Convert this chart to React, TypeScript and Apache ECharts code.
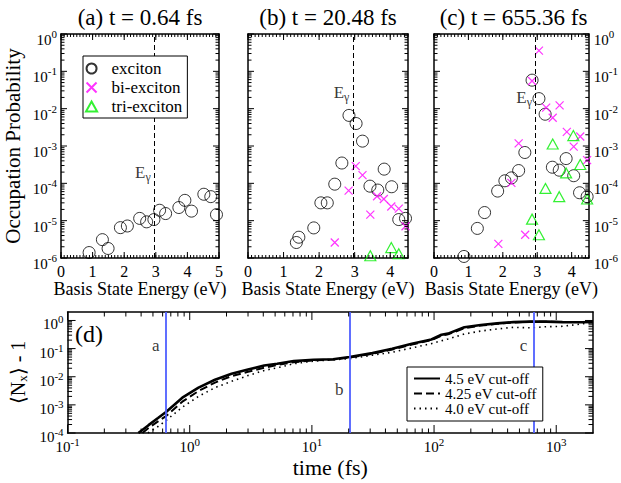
import React, { useEffect, useRef } from 'react';
import * as echarts from 'echarts';

const FONT = 'Liberation Serif';

// ---------- Panel (a) t = 0.64 fs ----------
const energyAExciton = [0.89, 1.31, 1.49, 1.88, 2.1, 2.49, 2.71, 2.94, 3.12, 3.31, 3.73, 3.92, 4.13, 4.52, 4.74, 4.92];
const probAExciton = [1.4e-6, 3.1e-6, 1.8e-6, 6.5e-6, 7.2e-6, 1.15e-5, 9.3e-6, 1.07e-5, 1.9e-5, 1.55e-5, 2.25e-5, 3.5e-5, 1.8e-5, 5.1e-5, 4.4e-5, 1.45e-5];

// ---------- Panel (b) t = 20.48 fs ----------
const energyBExciton = [1.36, 1.43, 1.85, 2.05, 2.23, 2.44, 2.64, 2.84, 3.04, 3.22, 3.43, 3.65, 3.83, 4.04, 4.24, 4.43];
const probBExciton = [2.6e-6, 3.6e-6, 6.4e-6, 3.0e-5, 3.0e-5, 9.5e-5, 3.5e-4, 6.6e-3, 4.0e-3, 1.35e-3, 8.4e-5, 6.6e-5, 2.4e-4, 8.1e-5, 1.07e-5, 1.15e-5];
const energyBBi = [2.44, 2.83, 3.03, 3.22, 3.44, 3.63, 3.82, 4.03, 4.24, 4.43];
const probBBi = [2.6e-6, 6.4e-5, 2.9e-4, 1.66e-4, 1.45e-5, 4.5e-5, 3.8e-5, 2.4e-5, 2.1e-5, 7.1e-6];
const energyBTri = [3.44, 4.03, 4.24];
const probBTri = [1.15e-6, 1.9e-6, 1.3e-6];

// ---------- Panel (c) t = 655.36 fs ----------
const energyCExciton = [0.87, 1.26, 1.47, 1.85, 2.06, 2.25, 2.46, 2.64, 2.85, 3.05, 3.23, 3.44, 3.64, 3.84, 4.06, 4.23, 4.45];
const probCExciton = [1.1e-6, 6.2e-6, 1.65e-5, 6.2e-5, 1.17e-4, 1.4e-4, 2.2e-4, 6.7e-4, 0.058, 0.0186, 7.1e-3, 2.7e-4, 2.25e-4, 4.6e-4, 1.6e-4, 5.6e-5, 4.4e-5];
const energyCBi = [1.87, 2.25, 2.46, 2.65, 2.85, 3.05, 3.26, 3.45, 3.65, 3.86, 4.06, 4.25, 4.45];
const probCBi = [2.4e-6, 1.03e-4, 1.18e-3, 4.2e-6, 0.055, 0.36, 0.0107, 5.7e-3, 0.0123, 2.4e-3, 9.6e-4, 1.8e-3, 4.2e-4];
const energyCTri = [2.85, 3.05, 3.24, 3.45, 3.64, 3.84, 4.05, 4.25, 4.45];
const probCTri = [1.1e-5, 4.2e-6, 7.3e-5, 1.13e-3, 4.4e-5, 1.9e-4, 1.9e-3, 3.2e-4, 3.8e-5];

const gapEnergy = 2.95;
const gapLabelLevels = [10 ** -3.72, 10 ** -1.58, 10 ** -1.71];
const panelTitles = ['(a) t = 0.64 fs', '(b) t = 20.48 fs', '(c) t = 655.36 fs'];

// ---------- Panel (d) ----------
const time45 = [0.38, 0.46, 0.55, 0.64, 0.87, 1.18, 1.61, 2.2, 3.0, 4.07, 5.2, 7.1, 10.3, 14.9, 20.3, 31.3, 45.4, 65.8, 95, 115, 130, 177, 241, 328, 447, 608, 830, 1125, 1620, 2000];
const nx45 = [1.0e-4, 1.9e-4, 3.4e-4, 5.6e-4, 1.8e-3, 4.1e-3, 7.8e-3, 0.0127, 0.018, 0.025, 0.029, 0.036, 0.04, 0.042, 0.05, 0.069, 0.098, 0.148, 0.21, 0.31, 0.34, 0.57, 0.69, 0.79, 0.87, 0.91, 0.91, 0.87, 0.86, 0.88];
const time425 = [0.41, 0.46, 0.55, 0.64, 0.87, 1.18, 1.61, 2.2, 3.0, 4.07, 5.2, 7.1, 10.3, 14.9, 20.3, 31.3, 45.4, 65.8, 95, 115, 130, 177, 241, 328, 447, 608, 830, 1125, 1620, 2000];
const nx425 = [1.0e-4, 1.5e-4, 2.6e-4, 4.0e-4, 1.3e-3, 3.1e-3, 6.2e-3, 0.0105, 0.015, 0.021, 0.026, 0.033, 0.038, 0.041, 0.048, 0.066, 0.093, 0.14, 0.2, 0.29, 0.32, 0.53, 0.66, 0.76, 0.85, 0.9, 0.9, 0.88, 0.88, 0.95];
const time40 = [0.455, 0.55, 0.64, 0.87, 1.18, 1.61, 2.2, 3.0, 4.07, 5.5, 7.1, 10.3, 20.3, 45.4, 95, 130, 177, 241, 328, 447, 608, 830, 1125, 1620, 2000];
const nx40 = [1.0e-4, 1.7e-4, 2.8e-4, 8.3e-4, 2.0e-3, 4.1e-3, 6.9e-3, 0.011, 0.0166, 0.022, 0.029, 0.036, 0.044, 0.074, 0.15, 0.22, 0.33, 0.42, 0.5, 0.57, 0.55, 0.6, 0.62, 0.75, 0.9];

const markerTimes = [0.64, 20.48, 655.36];
const markerNames = ['a', 'b', 'c'];
const markerLabelLevels = [0.13, 0.0035, 0.13];

const cutoffNames = ['4.5 eV cut-off', '4.25 eV cut-off', '4.0 eV cut-off'];
const speciesNames = ['exciton', 'bi-exciton', 'tri-exciton'];

// ---------- helpers ----------
const txt = { fontFamily: FONT, fontWeight: 'normal', fontStyle: 'normal', color: '#000' };
const powRich = (b: number, s: number, lift: number) => ({
  b: { ...txt, fontSize: b },
  s: { ...txt, fontSize: s, padding: [0, 0, lift, 0] },
});
const powLabel = (v: number) => {
  const e = Math.log10(v);
  const r = Math.round(e);
  if (Math.abs(e - r) > 1e-6) return '';
  return `{b|10}{s|${r}}`;
};
const intLabel = (v: number) => (Math.abs(v - Math.round(v)) < 1e-9 ? String(Math.round(v)) : '');

const range = (a: number, b: number, s: number) => {
  const out: number[] = [];
  for (let i = 0; a + i * s <= b + 1e-9; i++) out.push(+(a + i * s).toFixed(6));
  return out;
};
const decades = (e0: number, e1: number) => range(e0, e1, 1).map((e) => 10 ** e);
const logMinor = (e0: number, e1: number, maxV: number) => {
  const out: number[] = [];
  for (let e = e0; e <= e1; e++) for (let k = 2; k <= 9; k++) { const v = k * 10 ** e; if (v < maxV * 0.999) out.push(v); }
  return out;
};

type Tick = [number, number, number, number];
const buildTicks = (
  xMajor: number[], xMinor: number[], yAnchor: number,
  yMajor: number[], yMinor: number[], xAnchor: number,
  majLen: number, minLen: number, minLenY: number,
): Tick[] => [
  ...xMajor.map((v) => [v, yAnchor, 0, majLen] as Tick),
  ...xMinor.map((v) => [v, yAnchor, 0, minLen] as Tick),
  ...yMajor.map((v) => [xAnchor, v, 1, majLen] as Tick),
  ...yMinor.map((v) => [xAnchor, v, 1, minLenY] as Tick),
];

const tickSeries = (g: number, data: Tick[]) => ({
  type: 'custom',
  xAxisIndex: 2 * g,
  yAxisIndex: 2 * g,
  silent: true,
  z: 10,
  data,
  renderItem: (params: any, api: any) => {
    const cs = params.coordSys;
    const kind = api.value(2);
    const len = api.value(3);
    const st = { stroke: '#000', lineWidth: 1 };
    const p = api.coord([api.value(0), api.value(1)]);
    if (kind === 0) {
      const x = p[0];
      return {
        type: 'group',
        children: [
          { type: 'line', shape: { x1: x, y1: cs.y + cs.height, x2: x, y2: cs.y + cs.height - len }, style: st },
          { type: 'line', shape: { x1: x, y1: cs.y, x2: x, y2: cs.y + len }, style: st },
        ],
      };
    }
    const y = p[1];
    return {
      type: 'group',
      children: [
        { type: 'line', shape: { x1: cs.x, y1: y, x2: cs.x + len, y2: y }, style: st },
        { type: 'line', shape: { x1: cs.x + cs.width, y1: y, x2: cs.x + cs.width - len, y2: y }, style: st },
      ],
    };
  },
});

const frame = { show: true, onZero: false, lineStyle: { color: '#000', width: 1.5 } };
const noTicks = { axisTick: { show: false }, minorTick: { show: false }, splitLine: { show: false }, minorSplitLine: { show: false } };

const grids = [
  { left: 61, top: 34, width: 158, height: 224 },
  { left: 248, top: 34, width: 160, height: 224 },
  { left: 434, top: 34, width: 159, height: 224 },
  { left: 60, top: 312, width: 533, height: 121 },
];
const energyMax = [5, 4.5, 4.5];

const crossPath = 'path://M0,0L10,10M10,0L0,10';
const triPath = 'path://M5,0L10,9L0,9Z';
const circleSym = { symbol: 'circle', symbolSize: 12, itemStyle: { color: 'rgba(0,0,0,0)', borderColor: '#000', borderWidth: 1 } };
const crossSym = { symbol: crossPath, symbolSize: 8, itemStyle: { color: 'rgba(0,0,0,0)', borderColor: '#ff00ff', borderWidth: 1.2 } };
const triSym = { symbol: 'triangle', symbolSize: [11, 10], itemStyle: { color: 'rgba(0,0,0,0)', borderColor: '#00ee00', borderWidth: 1.2 } };

const scatter = (name: string, xs: number[], ys: number[], g: number, sym: any) => ({
  type: 'scatter', name, xAxisIndex: 2 * g, yAxisIndex: 2 * g,
  data: xs.map((x, i) => [x, ys[i]]), ...sym, z: 3, emphasis: { disabled: true },
});

const buildOption = () => {
  const xAxis: any[] = [];
  const yAxis: any[] = [];
  for (let g = 0; g < 3; g++) {
    const base = { type: 'value', gridIndex: g, min: 0, max: energyMax[g], interval: 1, ...noTicks };
    xAxis.push({
      ...base, position: 'bottom', axisLine: frame,
      axisLabel: { ...txt, fontSize: 16, margin: 5, formatter: intLabel, showMaxLabel: true },
      name: 'Basis State Energy (eV)', nameLocation: 'middle', nameGap: 18,
      nameTextStyle: { ...txt, fontSize: 18 },
    });
    xAxis.push({ ...base, position: 'top', axisLine: frame, axisLabel: { show: false } });
    const ybase = { type: 'log', logBase: 10, gridIndex: g, min: 1e-6, max: 1, ...noTicks };
    yAxis.push({
      ...ybase, position: 'left', axisLine: frame,
      axisLabel: g === 0
        ? { ...txt, formatter: powLabel, margin: 4, padding: [12, 0, 0, 0], rich: powRich(15, 11, 12) }
        : { show: false },
      ...(g === 0 ? {
        name: 'Occupation Probability', nameLocation: 'middle', nameGap: 38,
        nameTextStyle: { ...txt, fontSize: 21 },
      } : {}),
    });
    yAxis.push({
      ...ybase, position: 'right', axisLine: frame,
      axisLabel: g === 2
        ? { ...txt, formatter: powLabel, margin: 5, padding: [12, 0, 0, 0], rich: powRich(15, 11, 12) }
        : { show: false },
    });
  }
  const xd = { type: 'log', logBase: 10, gridIndex: 3, min: 0.1, max: 2000, ...noTicks };
  xAxis.push({
    ...xd, position: 'bottom', axisLine: frame,
    axisLabel: { ...txt, formatter: powLabel, margin: 3, rich: powRich(15, 11, 10) },
    name: 'time (fs)', nameLocation: 'middle', nameGap: 23,
    nameTextStyle: { ...txt, fontSize: 22 },
  });
  xAxis.push({ ...xd, position: 'top', axisLine: frame, axisLabel: { show: false } });
  const yd = { type: 'log', logBase: 10, gridIndex: 3, min: 1e-4, max: 2, ...noTicks };
  yAxis.push({
    ...yd, position: 'left', axisLine: frame,
    axisLabel: { ...txt, formatter: powLabel, margin: 4, padding: [8, 0, 0, 0], rich: powRich(15, 11, 10) },
    name: '{a|⟨N}{u|x}{a|⟩ - 1}', nameLocation: 'middle', nameGap: 34,
    nameTextStyle: { ...txt, rich: { a: { ...txt, fontSize: 20 }, u: { ...txt, fontSize: 13, padding: [8, 0, 0, 0] } } },
  });
  yAxis.push({ ...yd, position: 'right', axisLine: frame, axisLabel: { show: false } });

  const topTicksX = [range(0, 5, 1), range(0, 4, 1), range(0, 4, 1)];
  const topMinorX = [range(0, 5, 0.1), range(0, 4.5, 0.1), range(0, 4.5, 0.1)];
  const series: any[] = [];
  for (let g = 0; g < 3; g++) {
    series.push(tickSeries(g, buildTicks(topTicksX[g], topMinorX[g], 1e-6, decades(-6, 0), logMinor(-6, -1, 1), 0, 6, 3, 3.5)));
  }
  series.push(tickSeries(3, buildTicks(decades(-1, 3), logMinor(-1, 3, 2000), 1e-4, decades(-4, 0), logMinor(-4, 0, 2), 0.1, 8, 4.5, 4.5)));

  series.push(scatter(speciesNames[0], energyAExciton, probAExciton, 0, circleSym));
  series.push(scatter(speciesNames[0], energyBExciton, probBExciton, 1, circleSym));
  series.push(scatter(speciesNames[1], energyBBi, probBBi, 1, crossSym));
  series.push(scatter(speciesNames[2], energyBTri, probBTri, 1, triSym));
  series.push(scatter(speciesNames[0], energyCExciton, probCExciton, 2, circleSym));
  series.push(scatter(speciesNames[1], energyCBi, probCBi, 2, crossSym));
  series.push(scatter(speciesNames[2], energyCTri, probCTri, 2, triSym));

  for (let g = 0; g < 3; g++) {
    series.push({
      type: 'scatter', xAxisIndex: 2 * g, yAxisIndex: 2 * g, silent: true,
      data: [[gapEnergy, gapLabelLevels[g]]], symbol: 'circle', symbolSize: 1, itemStyle: { color: 'rgba(0,0,0,0)' },
      label: {
        show: true, position: 'left', distance: 3, formatter: '{e|E}{g|γ}',
        rich: { e: { ...txt, fontSize: 17 }, g: { ...txt, fontSize: 12, padding: [9, 0, 0, 0] } },
      },
      markLine: {
        silent: true, symbol: ['none', 'none'], label: { show: false },
        lineStyle: { color: '#000', type: [5, 3], width: 1 }, data: [{ xAxis: gapEnergy }],
      },
    });
  }

  const lineStyles = [
    { width: 2.6, type: 'solid' },
    { width: 2, type: [8, 4] },
    { width: 1.6, type: [1.5, 4] },
  ];
  const times = [time45, time425, time40];
  const vals = [nx45, nx425, nx40];
  for (let i = 2; i >= 0; i--) {
    series.push({
      type: 'line', name: cutoffNames[i], xAxisIndex: 6, yAxisIndex: 6,
      data: times[i].map((t, j) => [t, vals[i][j]]), showSymbol: false, symbol: 'none',
      color: '#000', lineStyle: { color: '#000', ...lineStyles[i] }, z: 4 - i, emphasis: { disabled: true },
    });
  }
  series.push({
    type: 'scatter', xAxisIndex: 6, yAxisIndex: 6, silent: true, symbol: 'circle', symbolSize: 1,
    itemStyle: { color: 'rgba(0,0,0,0)' },
    data: markerTimes.map((t, i) => ({ value: [t, markerLabelLevels[i]], name: markerNames[i] })),
    label: { show: true, position: 'left', distance: 6, formatter: '{b}', ...txt, fontSize: 17 },
    markLine: {
      silent: true, symbol: ['none', 'none'], label: { show: false },
      lineStyle: { color: '#4f5fff', type: 'solid', width: 1.8 },
      data: markerTimes.map((t) => ({ xAxis: t })),
    },
  });

  const titleCenters = grids.slice(0, 3).map((g) => g.left + g.width / 2);
  const legendIcons = ['circle', crossPath, triPath];
  return {
    animation: false,
    backgroundColor: '#fff',
    textStyle: { fontFamily: FONT, color: '#000' },
    grid: grids,
    xAxis,
    yAxis,
    legend: [
      {
        data: speciesNames.map((n, i) => ({ name: n, icon: legendIcons[i] })),
        orient: 'vertical', left: 83, top: 56, itemWidth: 30, itemHeight: 10, itemGap: 2,
        symbolKeepAspect: true,
        padding: [4, 5, 3, 2], borderColor: '#000', borderWidth: 1, backgroundColor: '#fff',
        textStyle: { ...txt, fontSize: 17 }, selectedMode: false, z: 20,
      },
      {
        data: cutoffNames, orient: 'vertical', left: 407, top: 367, itemWidth: 26, itemHeight: 12, itemGap: 0,
        padding: [4, 6, 5, 6], borderColor: '#000', borderWidth: 1, backgroundColor: '#fff',
        itemStyle: { opacity: 0 },
        textStyle: { ...txt, fontSize: 15 }, selectedMode: false, z: 20,
      },
    ],
    graphic: [
      ...panelTitles.map((t, i) => ({
        type: 'text', x: titleCenters[i], y: 17,
        style: { text: t, fontFamily: FONT, fontSize: 23, fill: '#000', align: 'center', verticalAlign: 'middle' },
      })),
      { type: 'text', x: 89, y: 334, style: { text: '(d)', fontFamily: FONT, fontSize: 24, fill: '#000', align: 'center', verticalAlign: 'middle' } },
    ],
    series,
  };
};

export default function App() {
  const ref = useRef<HTMLDivElement>(null);
  useEffect(() => {
    document.body.style.margin = '0';
    const chart = echarts.init(ref.current!, null, { renderer: 'svg' });
    chart.setOption(buildOption() as any);
    return () => chart.dispose();
  }, []);
  return <div ref={ref} style={{ width: 621, height: 483 }} />;
}
